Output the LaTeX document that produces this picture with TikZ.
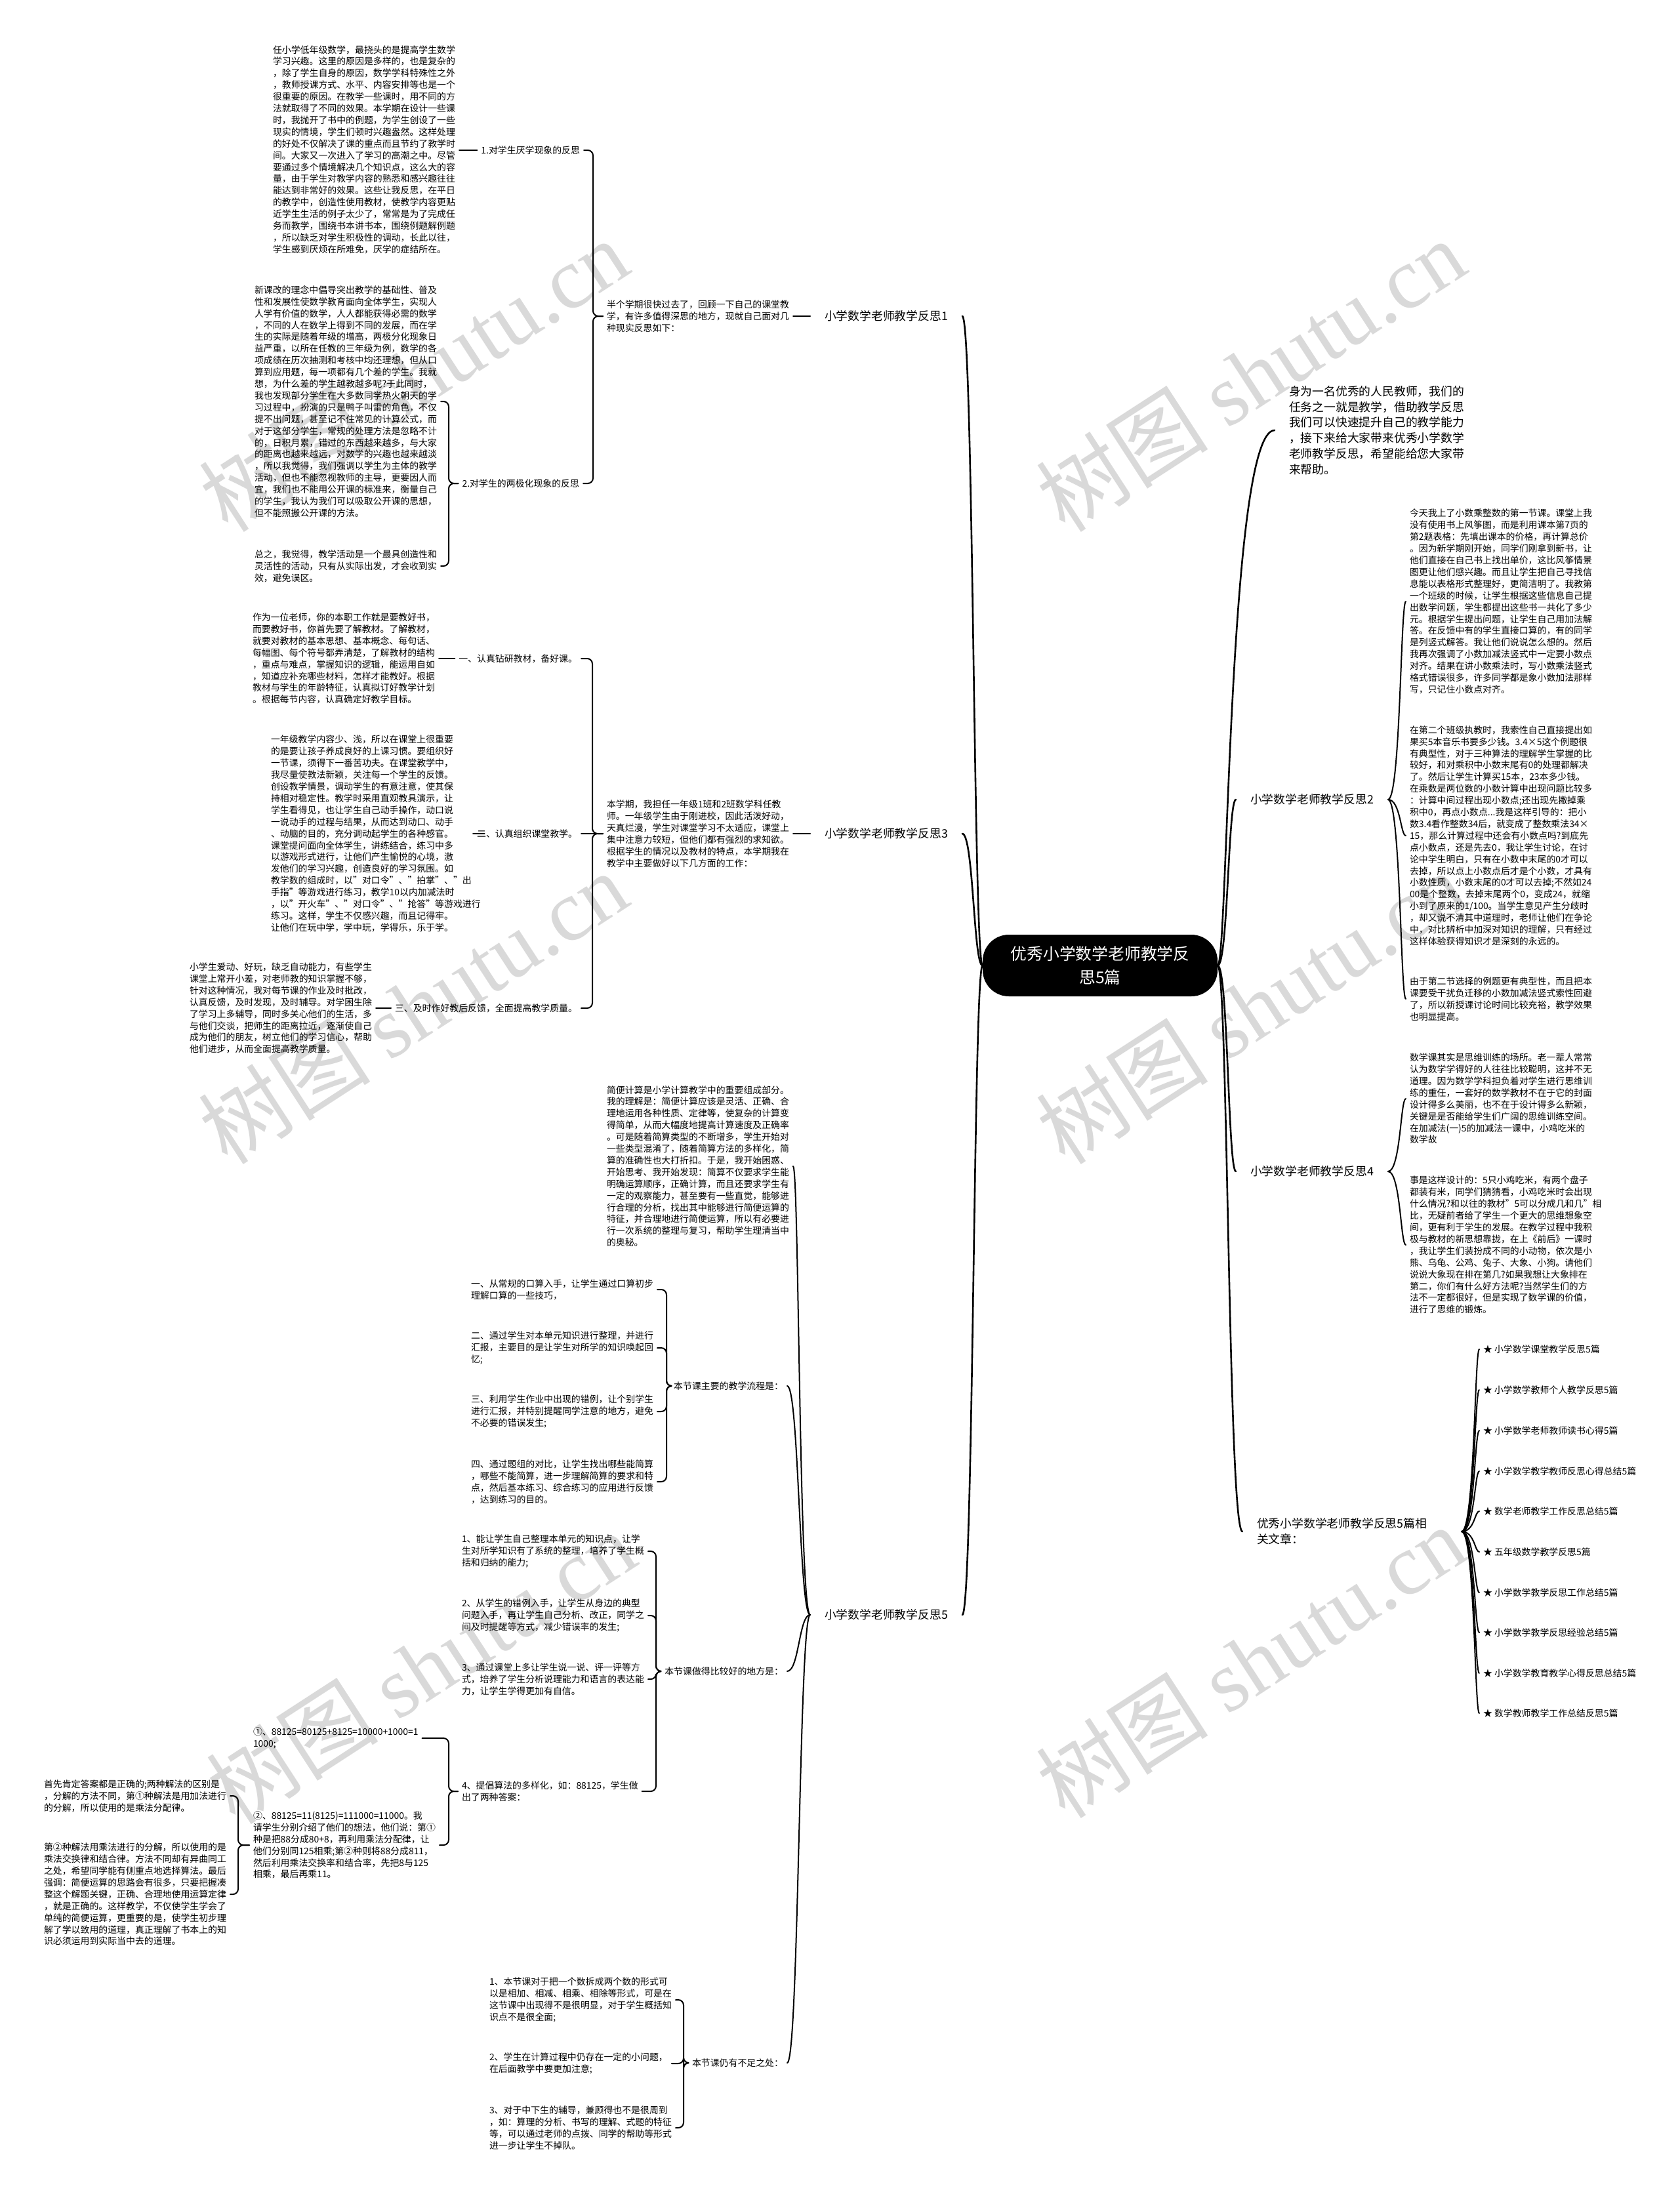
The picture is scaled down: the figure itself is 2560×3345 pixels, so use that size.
\documentclass[tikz,border=0pt]{standalone}
\usepackage{fontspec}
\setmainfont{Noto Sans CJK SC}
\newfontfamily\wmserif{Liberation Serif}
\tikzset{
  rootbox/.style={fill=black, text=white, rounded corners=40pt, minimum width=358pt, minimum height=94pt, align=center, font=\fontsize{24.8}{36}\selectfont},
  toplabel/.style={inner sep=0pt, outer xsep=22pt, align=left, font=\fontsize{17.8}{23.8}\selectfont},
  note/.style={inner sep=0pt, outer xsep=6pt, align=left, font=\fontsize{13.9}{17.9}\selectfont},
  mainlink/.style={line width=2.6pt, line cap=round},
  link/.style={line width=2pt, line cap=round},
  bracket/.style={line width=2pt, line cap=round, rounded corners=8pt},
  wmark/.style={rotate=33, text=black!15, font=\fontsize{132}{132}\selectfont}
}
\begin{document}
\begin{tikzpicture}[x=1pt,y=-1pt]
\useasboundingbox (0,0) rectangle (2560,3345);
\fill[white] (0,0) rectangle (2560,3345);
% watermarks
\node[wmark] (wm1) at (630,572) {树图 {\wmserif shutu.cn}};
\node[wmark] (wm2) at (1906,572) {树图 {\wmserif shutu.cn}};
\node[wmark] (wm3) at (629,1536) {树图 {\wmserif shutu.cn}};
\node[wmark] (wm4) at (1906,1536) {树图 {\wmserif shutu.cn}};
\node[wmark] (wm5) at (641,2542) {树图 {\wmserif shutu.cn}};
\node[wmark] (wm6) at (1906,2533) {树图 {\wmserif shutu.cn}};

\node[rootbox] (root) at (1677,1472) {优秀小学数学老师教学反\\思5篇};

% reflection 1
\node[toplabel, anchor=west] (l1) at (1235,482) {小学数学老师教学反思1};
\node[note, anchor=west] (t1) at (919,482) {半个学期很快过去了，回顾一下自己的课堂教\\学，有许多值得深思的地方，现就自己面对几\\种现实反思如下：};
\node[note, anchor=east] (s1a) at (890,229) {1.对学生厌学现象的反思};
\node[note, anchor=east] (s1b) at (889,737) {2.对学生的两极化现象的反思};
\node[note, anchor=west] (b1) at (410,228) {任小学低年级数学，最挠头的是提高学生数学\\学习兴趣。这里的原因是多样的，也是复杂的\\，除了学生自身的原因，数学学科特殊性之外\\，教师授课方式、水平、内容安排等也是一个\\很重要的原因。在教学一些课时，用不同的方\\法就取得了不同的效果。本学期在设计一些课\\时，我抛开了书中的例题，为学生创设了一些\\现实的情境，学生们顿时兴趣盎然。这样处理\\的好处不仅解决了课的重点而且节约了教学时\\间。大家又一次进入了学习的高潮之中。尽管\\要通过多个情境解决几个知识点，这么大的容\\量，由于学生对教学内容的熟悉和感兴趣往往\\能达到非常好的效果。这些让我反思，在平日\\的教学中，创造性使用教材，使教学内容更贴\\近学生生活的例子太少了，常常是为了完成任\\务而教学，围绕书本讲书本，围绕例题解例题\\，所以缺乏对学生积极性的调动，长此以往，\\学生感到厌烦在所难免，厌学的症结所在。};
\node[note, anchor=west] (b2) at (382,612) {新课改的理念中倡导突出教学的基础性、普及\\性和发展性使数学教育面向全体学生，实现人\\人学有价值的数学，人人都能获得必需的数学\\，不同的人在数学上得到不同的发展，而在学\\生的实际是随着年级的增高，两极分化现象日\\益严重，以所在任教的三年级为例，数学的各\\项成绩在历次抽测和考核中均还理想，但从口\\算到应用题，每一项都有几个差的学生。我就\\想，为什么差的学生越教越多呢?于此同时，\\我也发现部分学生在大多数同学热火朝天的学\\习过程中，扮演的只是鸭子叫雷的角色，不仅\\提不出问题，甚至记不住常见的计算公式，而\\对于这部分学生，常规的处理方法是忽略不计\\的，日积月累，错过的东西越来越多，与大家\\的距离也越来越远，对数学的兴趣也越来越淡\\，所以我觉得，我们强调以学生为主体的教学\\活动，但也不能忽视教师的主导，更要因人而\\宜，我们也不能用公开课的标准来，衡量自己\\的学生，我认为我们可以吸取公开课的思想，\\但不能照搬公开课的方法。};
\node[note, anchor=west] (b3) at (382,863) {总之，我觉得，教学活动是一个最具创造性和\\灵活性的活动，只有从实际出发，才会收到实\\效，避免误区。};
\draw[mainlink] (root.west) .. controls (1484,1472) and (1484,482) .. (l1.east);
\draw[link] (l1.west) -- (t1.east);
\draw[bracket] (t1.west) -- (904,482) |- (s1a.east);
\draw[bracket] (t1.west) -- (904,482) |- (s1b.east);
\draw[link] (s1a.west) -- (b1.east |- s1a.west);
\draw[bracket] (s1b.west) -- (684,737) |- (b2.east);
\draw[bracket] (s1b.west) -- (684,737) |- (b3.east);

% reflection 3
\node[toplabel, anchor=west] (l3) at (1235,1271) {小学数学老师教学反思3};
\node[note, anchor=west] (t3) at (919,1271) {本学期，我担任一年级1班和2班数学科任教\\师。一年级学生由于刚进校，因此活泼好动，\\天真烂漫，学生对课堂学习不太适应，课堂上\\集中注意力较短，但他们都有强烈的求知欲。\\根据学生的情况以及教材的特点，本学期我在\\教学中主要做好以下几方面的工作：};
\node[note, anchor=east] (s3a) at (886,1004) {一、认真钻研教材，备好课。};
\node[note, anchor=east] (s3b) at (886,1271) {二、认真组织课堂教学。};
\node[note, anchor=east] (s3c) at (886,1537) {三、及时作好教后反馈，全面提高教学质量。};
\node[note, anchor=west] (b3a) at (379,1004) {作为一位老师，你的本职工作就是要教好书，\\而要教好书，你首先要了解教材。了解教材，\\就要对教材的基本思想、基本概念、每句话、\\每幅图、每个符号都弄清楚，了解教材的结构\\，重点与难点，掌握知识的逻辑，能运用自如\\，知道应补充哪些材料，怎样才能教好。根据\\教材与学生的年龄特征，认真拟订好教学计划\\。根据每节内容，认真确定好教学目标。};
\node[note, anchor=west] (b3b) at (407,1271) {一年级教学内容少、浅，所以在课堂上很重要\\的是要让孩子养成良好的上课习惯。要组织好\\一节课，须得下一番苦功夫。在课堂教学中，\\我尽量使教法新颖，关注每一个学生的反馈。\\创设教学情景，调动学生的有意注意，使其保\\持相对稳定性。教学时采用直观教具演示，让\\学生看得见，也让学生自己动手操作，动口说\\一说动手的过程与结果，从而达到动口、动手\\、动脑的目的，充分调动起学生的各种感官。\\课堂提问面向全体学生，讲练结合，练习中多\\以游戏形式进行，让他们产生愉悦的心境，激\\发他们的学习兴趣，创造良好的学习氛围。如\\教学数的组成时，以"对口令"、"拍掌"、"出\\手指"等游戏进行练习，教学10以内加减法时\\，以"开火车"、"对口令"、"抢答"等游戏进行\\练习。这样，学生不仅感兴趣，而且记得牢。\\让他们在玩中学，学中玩，学得乐，乐于学。};
\node[note, anchor=west] (b3c) at (283,1537) {小学生爱动、好玩，缺乏自动能力，有些学生\\课堂上常开小差，对老师教的知识掌握不够，\\针对这种情况，我对每节课的作业及时批改，\\认真反馈，及时发现，及时辅导。对学困生除\\了学习上多辅导，同时多关心他们的生活，多\\与他们交谈，把师生的距离拉近，逐渐使自己\\成为他们的朋友，树立他们的学习信心，帮助\\他们进步，从而全面提高教学质量。};
\draw[mainlink] (root.west) .. controls (1484,1472) and (1484,1271) .. (l3.east);
\draw[link] (l3.west) -- (t3.east);
\draw[bracket] (t3.west) -- (903,1271) |- (s3a.east);
\draw[bracket] (t3.west) -- (s3b.east);
\draw[bracket] (t3.west) -- (903,1271) |- (s3c.east);
\draw[link] (s3a.west) -- (b3a.east);
\draw[link] (s3b.west) -- (b3b.east);
\draw[link] (s3c.west) -- (b3c.east);

% reflection 5
\node[toplabel, anchor=west] (l5) at (1235,2462) {小学数学老师教学反思5};
\node[note, anchor=west] (s5a) at (919,1778) {简便计算是小学计算教学中的重要组成部分。\\我的理解是：简便计算应该是灵活、正确、合\\理地运用各种性质、定律等，使复杂的计算变\\得简单，从而大幅度地提高计算速度及正确率\\。可是随着简算类型的不断增多，学生开始对\\一些类型混淆了，随着简算方法的多样化，简\\算的准确性也大打折扣。于是，我开始困惑、\\开始思考、我开始发现：简算不仅要求学生能\\明确运算顺序，正确计算，而且还要求学生有\\一定的观察能力，甚至要有一些直觉，能够进\\行合理的分析，找出其中能够进行简便运算的\\特征，并合理地进行简便运算，所以有必要进\\行一次系统的整理与复习，帮助学生理清当中\\的奥秘。};
\node[note, anchor=east] (s5b) at (1200,2113) {本节课主要的教学流程是：};
\node[note, anchor=east] (s5c) at (1200,2548) {本节课做得比较好的地方是：};
\node[note, anchor=east] (s5d) at (1200,3145) {本节课仍有不足之处：};
\node[note, anchor=west] (f1) at (712,1966) {一、从常规的口算入手，让学生通过口算初步\\理解口算的一些技巧，};
\node[note, anchor=west] (f2) at (712,2055) {二、通过学生对本单元知识进行整理，并进行\\汇报，主要目的是让学生对所学的知识唤起回\\忆;};
\node[note, anchor=west] (f3) at (712,2152) {三、利用学生作业中出现的错例，让个别学生\\进行汇报，并特别提醒同学注意的地方，避免\\不必要的错误发生;};
\node[note, anchor=west] (f4) at (712,2259) {四、通过题组的对比，让学生找出哪些能简算\\，哪些不能简算，进一步理解简算的要求和特\\点，然后基本练习、综合练习的应用进行反馈\\，达到练习的目的。};
\node[note, anchor=west] (g1) at (698,2365) {1、能让学生自己整理本单元的知识点，让学\\生对所学知识有了系统的整理，培养了学生概\\括和归纳的能力;};
\node[note, anchor=west] (g2) at (698,2463) {2、从学生的错例入手，让学生从身边的典型\\问题入手，再让学生自己分析、改正，同学之\\间及时提醒等方式，减少错误率的发生;};
\node[note, anchor=west] (g3) at (698,2560) {3、通过课堂上多让学生说一说、评一评等方\\式，培养了学生分析说理能力和语言的表达能\\力，让学生学得更加有自信。};
\node[note, anchor=west] (g4) at (698,2731) {4、提倡算法的多样化，如：88125，学生做\\出了两种答案：};
\node[note, anchor=west] (h1) at (380,2650) {①、88125=80125+8125=10000+1000=1\\1000;};
\node[note, anchor=west] (h2) at (380,2813) {②、88125=11(8125)=111000=11000。我\\请学生分别介绍了他们的想法，他们说：第①\\种是把88分成80+8，再利用乘法分配律，让\\他们分别同125相乘;第②种则将88分成811，\\然后利用乘法交换率和结合率，先把8与125\\相乘，最后再乘11。};
\node[note, anchor=west] (k1) at (61,2738) {首先肯定答案都是正确的;两种解法的区别是\\，分解的方法不同，第①种解法是用加法进行\\的分解，所以使用的是乘法分配律。};
\node[note, anchor=west] (k2) at (61,2888) {第②种解法用乘法进行的分解，所以使用的是\\乘法交换律和结合律。方法不同却有异曲同工\\之处，希望同学能有侧重点地选择算法。最后\\强调：简便运算的思路会有很多，只要把握凑\\整这个解题关键，正确、合理地使用运算定律\\，就是正确的。这样教学，不仅使学生学会了\\单纯的简便运算，更重要的是，使学生初步理\\解了学以致用的道理，真正理解了书本上的知\\识必须运用到实际当中去的道理。};
\node[note, anchor=west] (m1) at (740,3049) {1、本节课对于把一个数拆成两个数的形式可\\以是相加、相减、相乘、相除等形式，可是在\\这节课中出现得不是很明显，对于学生概括知\\识点不是很全面;};
\node[note, anchor=west] (m2) at (740,3146) {2、学生在计算过程中仍存在一定的小问题，\\在后面教学中要更加注意;};
\node[note, anchor=west] (m3) at (740,3244) {3、对于中下生的辅导，兼顾得也不是很周到\\，如：算理的分析、书写的理解、式题的特征\\等，可以通过老师的点拨、同学的帮助等形式\\进一步让学生不掉队。};
\draw[mainlink] (root.west) .. controls (1484,1472) and (1484,2462) .. (l5.east);
\draw[link] (l5.west) .. controls (1218,2462) and (1218,1778) .. (s5a.east);
\draw[link] (l5.west) .. controls (1218,2462) and (1218,2113) .. (s5b.east);
\draw[link] (l5.west) .. controls (1218,2462) and (1218,2548) .. (s5c.east);
\draw[link] (l5.west) .. controls (1218,2462) and (1218,3145) .. (s5d.east);
\draw[bracket] (s5b.west) -- (1016,2113) |- (f1.east);
\draw[bracket] (s5b.west) -- (1016,2113) |- (f2.east);
\draw[bracket] (s5b.west) -- (1016,2113) |- (f3.east);
\draw[bracket] (s5b.west) -- (1016,2113) |- (f4.east);
\draw[bracket] (s5c.west) -- (1000,2548) |- (g1.east);
\draw[bracket] (s5c.west) -- (1000,2548) |- (g2.east);
\draw[bracket] (s5c.west) -- (1000,2548) |- (g3.east);
\draw[bracket] (s5c.west) -- (1000,2548) |- (g4.east);
\draw[bracket] (g4.west) -- (684,2731) |- (h1.east);
\draw[bracket] (g4.west) -- (684,2731) |- (h2.east);
\draw[bracket] (h2.west) -- (363,2813) |- (k1.east);
\draw[bracket] (h2.west) -- (363,2813) |- (k2.east);
\draw[bracket] (s5d.west) -- (1042,3145) |- (m1.east);
\draw[bracket] (s5d.west) -- (1042,3145) |- (m2.east);
\draw[bracket] (s5d.west) -- (1042,3145) |- (m3.east);

% intro and reflection 2
\node[toplabel, anchor=west] (intro) at (1943,656) {身为一名优秀的人民教师，我们的\\任务之一就是教学，借助教学反思\\我们可以快速提升自己的教学能力\\，接下来给大家带来优秀小学数学\\老师教学反思，希望能给您大家带\\来帮助。};
\node[toplabel, anchor=west] (l2) at (1884,1219) {小学数学老师教学反思2};
\node[note, anchor=west] (b2a) at (2143,917) {今天我上了小数乘整数的第一节课。课堂上我\\没有使用书上风筝图，而是利用课本第7页的\\第2题表格：先填出课本的价格，再计算总价\\。因为新学期刚开始，同学们刚拿到新书，让\\他们直接在自己书上找出单价，这比风筝情景\\图更让他们感兴趣。而且让学生把自己寻找信\\息能以表格形式整理好，更简洁明了。我教第\\一个班级的时候，让学生根据这些信息自己提\\出数学问题，学生都提出这些书一共化了多少\\元。根据学生提出问题，让学生自己用加法解\\答。在反馈中有的学生直接口算的，有的同学\\是列竖式解答。我让他们说说怎么想的。然后\\我再次强调了小数加减法竖式中一定要小数点\\对齐。结果在讲小数乘法时，写小数乘法竖式\\格式错误很多，许多同学都是象小数加法那样\\写，只记住小数点对齐。};
\node[note, anchor=west] (b2b) at (2143,1274) {在第二个班级执教时，我索性自己直接提出如\\果买5本音乐书要多少钱。3.4×5这个例题很\\有典型性，对于三种算法的理解学生掌握的比\\较好，和对乘积中小数末尾有0的处理都解决\\了。然后让学生计算买15本，23本多少钱。\\在乘数是两位数的小数计算中出现问题比较多\\：计算中间过程出现小数点;还出现先撇掉乘\\积中0，再点小数点...我是这样引导的：把小\\数3.4看作整数34后，就变成了整数乘法34×\\15，那么计算过程中还会有小数点吗?到底先\\点小数点，还是先去0，我让学生讨论，在讨\\论中学生明白，只有在小数中末尾的0才可以\\去掉，所以点上小数点后才是个小数，才具有\\小数性质，小数末尾的0才可以去掉;不然如24\\00是个整数，去掉末尾两个0，变成24，就缩\\小到了原来的1/100。当学生意见产生分歧时\\，却又说不清其中道理时，老师让他们在争论\\中，对比辨析中加深对知识的理解，只有经过\\这样体验获得知识才是深刻的永远的。};
\node[note, anchor=west] (b2c) at (2143,1523) {由于第二节选择的例题更有典型性，而且把本\\课要受干扰负迁移的小数加减法竖式索性回避\\了，所以新授课讨论时间比较充裕，教学效果\\也明显提高。};
\draw[mainlink] (root.east) .. controls (1872,1472) and (1872,656) .. (intro.west);
\draw[mainlink] (root.east) .. controls (1872,1472) and (1872,1219) .. (l2.west);
\draw[link] (l2.east) .. controls (2135,1219) and (2135,917) .. (b2a.west);
\draw[link] (l2.east) .. controls (2135,1219) and (2135,1274) .. (b2b.west);
\draw[link] (l2.east) .. controls (2135,1219) and (2135,1523) .. (b2c.west);

% reflection 4
\node[toplabel, anchor=west] (l4) at (1884,1786) {小学数学老师教学反思4};
\node[note, anchor=west] (b4a) at (2143,1675) {数学课其实是思维训练的场所。老一辈人常常\\认为数学学得好的人往往比较聪明，这并不无\\道理。因为数学学科担负着对学生进行思维训\\练的重任，一套好的数学教材不在于它的封面\\设计得多么美丽，也不在于设计得多么新颖，\\关键是是否能给学生们广阔的思维训练空间。\\在加减法(一)5的加减法一课中，小鸡吃米的\\数学故};
\node[note, anchor=west] (b4b) at (2143,1898) {事是这样设计的：5只小鸡吃米，有两个盘子\\都装有米，同学们猜猜看，小鸡吃米时会出现\\什么情况?和以往的教材"5可以分成几和几"相\\比，无疑前者给了学生一个更大的思维想象空\\间，更有利于学生的发展。在教学过程中我积\\极与教材的新思想靠拢，在上《前后》一课时\\，我让学生们装扮成不同的小动物，依次是小\\熊、乌龟、公鸡、兔子、大象、小狗。请他们\\说说大象现在排在第几?如果我想让大象排在\\第二，你们有什么好方法呢?当然学生们的方\\法不一定都很好，但是实现了数学课的价值，\\进行了思维的锻炼。};
\draw[mainlink] (root.east) .. controls (1872,1472) and (1872,1786) .. (l4.west);
\draw[link] (l4.east) .. controls (2135,1786) and (2135,1675) .. (b4a.west);
\draw[link] (l4.east) .. controls (2135,1786) and (2135,1898) .. (b4b.west);

% related articles
\node[toplabel, anchor=west, text width=290pt] (rel) at (1894,2335) {优秀小学数学老师教学反思5篇相\\关文章：};
\node[note, anchor=west] (r1) at (2255,2057) {★ 小学数学课堂教学反思5篇};
\node[note, anchor=west] (r2) at (2255,2119) {★ 小学数学教师个人教学反思5篇};
\node[note, anchor=west] (r3) at (2255,2181) {★ 小学数学老师教师读书心得5篇};
\node[note, anchor=west] (r4) at (2255,2243) {★ 小学数学教学教师反思心得总结5篇};
\node[note, anchor=west] (r5) at (2255,2304) {★ 数学老师教学工作反思总结5篇};
\node[note, anchor=west] (r6) at (2255,2366) {★ 五年级数学教学反思5篇};
\node[note, anchor=west] (r7) at (2255,2428) {★ 小学数学教学反思工作总结5篇};
\node[note, anchor=west] (r8) at (2255,2489) {★ 小学数学教学反思经验总结5篇};
\node[note, anchor=west] (r9) at (2255,2551) {★ 小学数学教育教学心得反思总结5篇};
\node[note, anchor=west] (r10) at (2255,2612) {★ 数学教师教学工作总结反思5篇};
\draw[mainlink] (root.east) .. controls (1872,1472) and (1872,2335) .. (rel.west);
\draw[link] (rel.east) .. controls (2248,2335) and (2248,2057) .. (r1.west);
\draw[link] (rel.east) .. controls (2248,2335) and (2248,2119) .. (r2.west);
\draw[link] (rel.east) .. controls (2248,2335) and (2248,2181) .. (r3.west);
\draw[link] (rel.east) .. controls (2248,2335) and (2248,2243) .. (r4.west);
\draw[link] (rel.east) .. controls (2248,2335) and (2248,2304) .. (r5.west);
\draw[link] (rel.east) .. controls (2248,2335) and (2248,2366) .. (r6.west);
\draw[link] (rel.east) .. controls (2248,2335) and (2248,2428) .. (r7.west);
\draw[link] (rel.east) .. controls (2248,2335) and (2248,2489) .. (r8.west);
\draw[link] (rel.east) .. controls (2248,2335) and (2248,2551) .. (r9.west);
\draw[link] (rel.east) .. controls (2248,2335) and (2248,2612) .. (r10.west);
\end{tikzpicture}
\end{document}
